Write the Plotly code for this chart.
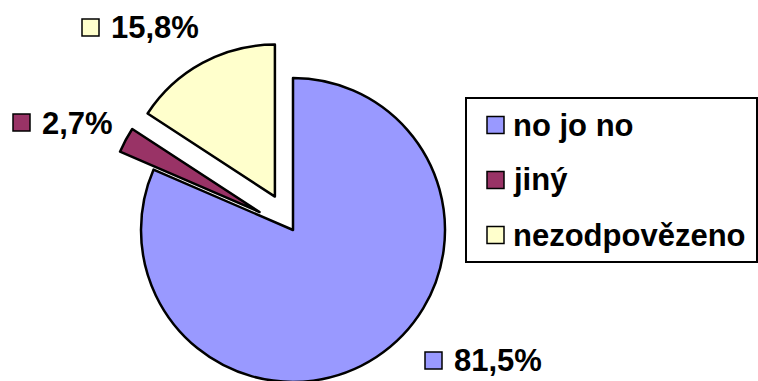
import plotly.graph_objects as go

labels = ["no jo no", "jiný", "nezodpovězeno"]
values = [81.5, 2.7, 15.8]
colors = ["#9999FF", "#993366", "#FFFFCC"]
pulls = [0, 0.25, 0.25]

W, H = 758, 460  # figure taller than window; bottom part is cropped like the reference
FONT = dict(family="Arial, 'Liberation Sans', sans-serif", size=31, color="black", weight="bold")


def px(x, y):
    return x / W, 1 - y / H


fig = go.Figure()
fig.add_trace(go.Pie(
    labels=labels, values=values, sort=False, direction="clockwise", rotation=0,
    marker=dict(colors=colors, line=dict(color="black", width=2.5)),
    pull=pulls, textinfo="none", hoverinfo="label+percent", showlegend=False,
    domain=dict(x=[103 / W, 483 / W], y=[40 / H, 420 / H]),
))

shapes = []
annotations = []

# slice value labels with color keys
label_pos = {1: (13, 114, 123), 2: (82, 19, 28), 0: (425, 352, 360)}
for i, (sx, sy, ty) in label_pos.items():
    x0, y0 = px(sx, sy)
    x1, y1 = px(sx + 17, sy + 17)
    shapes.append(dict(type="rect", xref="paper", yref="paper", x0=x0, x1=x1, y0=y1, y1=y0,
                       fillcolor=colors[i], line=dict(color="black", width=1.5)))
    tx, tyy = px(sx + 27, ty)
    annotations.append(dict(xref="paper", yref="paper", x=tx, y=tyy, xanchor="left", yanchor="middle",
                            text=f"{values[i]:.1f}".replace(".", ",") + "%", showarrow=False, font=FONT))

# legend box
bx0, by0 = px(466, 98)
bx1, by1 = px(757, 262)
shapes.append(dict(type="rect", xref="paper", yref="paper", x0=bx0, x1=bx1, y0=by1, y1=by0,
                   fillcolor="white", line=dict(color="black", width=2), layer="below"))
rows = [125, 180, 235]
for i, cy in enumerate(rows):
    x0, y0 = px(487, cy - 8.5)
    x1, y1 = px(504, cy + 8.5)
    shapes.append(dict(type="rect", xref="paper", yref="paper", x0=x0, x1=x1, y0=y1, y1=y0,
                       fillcolor=colors[i], line=dict(color="black", width=1.5)))
    tx, tyy = px(511, cy)
    annotations.append(dict(xref="paper", yref="paper", x=tx, y=tyy, xanchor="left", yanchor="middle",
                            text=labels[i], showarrow=False, font=FONT))

fig.update_layout(
    width=W, height=H, margin=dict(l=0, r=0, t=0, b=0),
    paper_bgcolor="white", plot_bgcolor="white",
    shapes=shapes, annotations=annotations,
)

fig.write_html("out.html")
